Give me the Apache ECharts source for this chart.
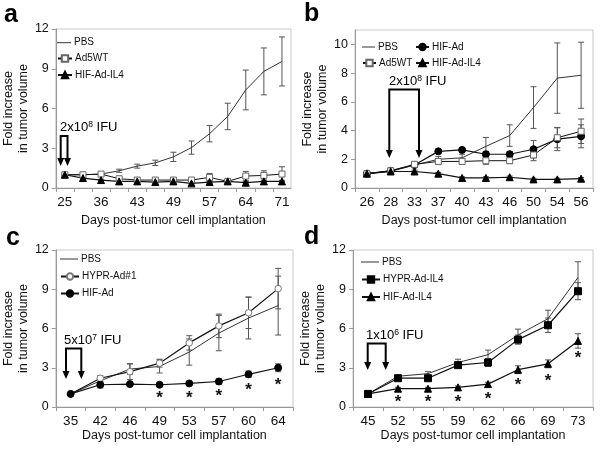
<!DOCTYPE html>
<html><head><meta charset="utf-8">
<script src="https://cdn.jsdelivr.net/npm/echarts@6/dist/echarts.min.js"></script>
<style>html,body{margin:0;padding:0;background:#fff}#c{width:600px;height:449px}</style>
</head><body><div id="c"></div>
<script>
// ---------- DATA ----------
const daysA = ['25','','36','','43','','49','','57','','64','','71'];
const pbsA = [1.0, 1.0, 1.05, 1.3, 1.65, 1.9, 2.35, 3.05, 4.1, 5.4, 7.4, 8.8, 9.55];
const pbsAErr = [0, 0.05, 0.1, 0.12, 0.15, 0.2, 0.35, 0.5, 0.62, 1.0, 1.5, 1.77, 1.85];
const ad5A = [1.0, 1.0, 1.05, 0.7, 0.6, 0.6, 0.6, 0.6, 0.8, 0.5, 0.9, 0.95, 1.05];
const ad5AErr = [0.05, 0.05, 0.1, 0.12, 0.1, 0.1, 0.15, 0.1, 0.3, 0.1, 0.35, 0.35, 0.55];
const hifIL4A = [1.0, 0.75, 0.6, 0.5, 0.5, 0.45, 0.5, 0.35, 0.45, 0.5, 0.4, 0.5, 0.5];
const hifIL4AErr = [0.05, 0.08, 0.05, 0.05, 0.05, 0.05, 0.08, 0.05, 0.08, 0.05, 0.08, 0.08, 0.08];

const daysB = ['26','28','33','37','40','43','46','50','54','56'];
const pbsB = [1.0, 1.15, 1.6, 2.0, 2.1, 2.9, 3.65, 5.6, 7.65, 7.85];
const pbsBErr = [0, 0.05, 0.1, 0.2, 0.25, 0.62, 0.75, 1.45, 2.45, 2.3];
const hifAdB = [1.0, 1.2, 1.6, 2.55, 2.65, 2.35, 2.35, 2.7, 3.4, 3.6];
const hifAdBErr = [0.05, 0.05, 0.1, 0.15, 0.15, 0.2, 0.2, 0.6, 0.8, 0.8];
const ad5B = [1.0, 1.2, 1.65, 1.85, 1.85, 1.9, 1.9, 2.3, 3.5, 3.95];
const ad5BErr = [0.05, 0.05, 0.1, 0.2, 0.2, 0.25, 0.2, 0.4, 0.7, 0.85];
const hifIL4B = [1.0, 1.15, 1.15, 1.0, 0.7, 0.7, 0.75, 0.6, 0.6, 0.65];
const hifIL4BErr = [0.05, 0.05, 0.1, 0.08, 0.08, 0.08, 0.08, 0.08, 0.08, 0.08];

const daysC = ['35','42','46','49','53','57','60','64'];
const pbsC = [1.0, 2.0, 2.9, 3.1, 4.2, 5.65, 6.8, 7.75];
const pbsCErr = [0, 0.15, 0.4, 0.5, 1.0, 1.35, 1.6, 2.25];
const hyprC = [1.0, 2.2, 2.7, 3.35, 4.9, 6.2, 7.2, 9.05];
const hyprCErr = [0, 0.2, 0.6, 0.3, 0.55, 0.9, 1.2, 1.55];
const hifAdC = [1.0, 1.7, 1.75, 1.7, 1.8, 1.95, 2.5, 3.0];
const hifAdCErr = [0, 0.25, 0.1, 0.1, 0.15, 0.2, 0.25, 0.3];
const starsC = [null, null, null, 0.95, 0.95, 1.15, 1.6, 2.0];

const daysD = ['45','52','55','59','62','66','69','73'];
const pbsD = [1.0, 2.35, 2.55, 3.4, 4.0, 5.5, 6.75, 9.9];
const pbsDErr = [0, 0.1, 0.15, 0.25, 0.35, 0.45, 0.65, 1.2];
const hyprD = [1.0, 2.2, 2.2, 3.2, 3.4, 5.15, 6.25, 8.85];
const hyprDErr = [0.05, 0.15, 0.2, 0.2, 0.3, 0.35, 0.55, 0.65];
const hifIL4D = [1.0, 1.4, 1.4, 1.5, 1.75, 2.85, 3.3, 5.05];
const hifIL4DErr = [0.05, 0.1, 0.1, 0.1, 0.15, 0.3, 0.3, 0.55];
const starsD = [null, 0.7, 0.7, 0.7, 0.9, 1.95, 2.3, 4.0];

// ---------- STYLES ----------
const FONT = 'Liberation Sans, Arial, sans-serif';
const AX = '#999';
const ST = {
  'PBS':         {symbol:'none', color:'#333', border:'#333', size:0, width:1},
  'Ad5WT':       {symbol:'rect', color:'#fff', border:'#666', size:6, width:1},
  'HIF-Ad-IL4':  {symbol:'triangle', color:'#000', border:'#000', size:7, width:1.2},
  'HIF-Ad':      {symbol:'circle', color:'#000', border:'#000', size:7, width:1.2},
  'HYPR-Ad#1':   {symbol:'circle', color:'#fff', border:'#777', size:6.5, width:1.2},
  'HYPR-Ad-IL4': {symbol:'rect', color:'#000', border:'#000', size:7, width:1.2}
};

function line(name, vals, gi){
  const s = ST[name];
  const isPBS = name === 'PBS';
  return {type:'line', name, xAxisIndex:gi, yAxisIndex:gi, data:vals, symbol:s.symbol,
    symbolSize:s.size, showSymbol: !isPBS, z:4,
    lineStyle:{color: isPBS ? '#333' : '#111', width:s.width},
    itemStyle:{color:s.color, borderColor:s.border, borderWidth: isPBS ? 0 : 1, opacity:1}};
}
function err(vals, errs, gi){
  return {type:'custom', xAxisIndex:gi, yAxisIndex:gi, z:3,
    data: vals.map((v,i)=>[i, v-errs[i], v+errs[i]]),
    encode:{x:0, y:[1,2]},
    renderItem:(p, api)=>{
      const x = api.value(0);
      const a = api.coord([x, api.value(2)]);
      const b = api.coord([x, api.value(1)]);
      if (Math.abs(a[1]-b[1]) < 1) return null;
      const st = {stroke:'#555', lineWidth:1};
      return {type:'group', children:[
        {type:'line', shape:{x1:a[0], y1:a[1], x2:b[0], y2:b[1]}, style:st},
        {type:'line', shape:{x1:a[0]-3, y1:a[1], x2:a[0]+3, y2:a[1]}, style:st},
        {type:'line', shape:{x1:b[0]-3, y1:b[1], x2:b[0]+3, y2:b[1]}, style:st}
      ]};
    }};
}
function stars(vals, gi){
  return {type:'custom', xAxisIndex:gi, yAxisIndex:gi, z:5,
    data: vals.map((v,i)=>[i, v]).filter(d=>d[1]!==null),
    encode:{x:0, y:1},
    renderItem:(p, api)=>{
      const c = api.coord([api.value(0), api.value(1)]);
      return {type:'text', x:c[0], y:c[1]+4, style:{text:'*', font:'bold 17px '+FONT, fill:'#111', align:'center', verticalAlign:'middle'}};
    }};
}

const grids = [
  {left:54, top:29, width:237, height:159},
  {left:355, top:30, width:238, height:158},
  {left:53, top:250, width:240, height:157},
  {left:353, top:250, width:240, height:157}
].map(g=>Object.assign(g, {show:true, borderColor:'#c8c8c8', borderWidth:1, backgroundColor:'#fff'}));

function xAx(gi, data, gap){
  return {type:'category', gridIndex:gi, data, boundaryGap:true,
    axisLine:{lineStyle:{color:AX}}, axisTick:{show:true, length:4, interval:0, lineStyle:{color:AX}},
    axisLabel:{interval:0, fontSize:13.5, color:'#111', margin:7, fontFamily:FONT},
    name:'Days post-tumor cell implantation', nameLocation:'middle', nameGap:gap,
    nameTextStyle:{fontSize:12.5, color:'#111', fontFamily:FONT}};
}
function yAx(gi, max, interval, hideMax){
  return {type:'value', gridIndex:gi, min:0, max, interval, splitLine:{show:false},
    axisLine:{show:true, lineStyle:{color:AX}}, axisTick:{show:true, length:4, lineStyle:{color:AX}},
    axisLabel:{fontSize:12.5, color:'#111', margin:7, showMaxLabel: !hideMax, fontFamily:FONT},
    name:'Fold increase\nin tumor volume', nameLocation:'middle', nameGap:16, nameRotate:90,
    nameTextStyle:{fontSize:12.5, lineHeight:15, color:'#111', fontFamily:FONT}};
}

// one legend component per row; PBS uses a thin bar icon
function row(name, left, cy, w){
  const isPBS = name === 'PBS';
  const o = {data: isPBS ? [{name, icon:'rect', itemStyle:{color:'#333', borderWidth:0, borderColor:'transparent'}}] : [name],
    left, top: cy - 6, orient:'vertical', padding:0, itemWidth:w, itemHeight: isPBS ? 1 : 8, height:12,
    selectedMode:false, textStyle:{fontSize:10, color:'#111', fontFamily:FONT, padding:[0,0,0,-2], lineHeight:12}};
  if (isPBS) o.itemStyle = {borderWidth:0};
  return o;
}

function bracket(x1, x2, yTop, yTip){
  const h = 8;
  return [
    {type:'polyline', shape:{points:[[x1,yTip-h+1],[x1,yTop],[x2,yTop],[x2,yTip-h+1]]}, style:{stroke:'#000', lineWidth:2, fill:null}},
    {type:'polygon', shape:{points:[[x1-3.5,yTip-h],[x1+3.5,yTip-h],[x1,yTip]]}, style:{fill:'#000'}},
    {type:'polygon', shape:{points:[[x2-3.5,yTip-h],[x2+3.5,yTip-h],[x2,yTip]]}, style:{fill:'#000'}}
  ];
}
function doseText(x, y, base, exp){
  return {type:'text', x, y, style:{text: base+'{s|'+exp+'} IFU', font:'13px '+FONT, fill:'#000',
    verticalAlign:'bottom', rich:{s:{fontSize:8.5, verticalAlign:'top', fontFamily:FONT, padding:[0,0,6,0]}}}};
}
function letter(t, x, y){
  return {type:'text', x, y, style:{text:t, font:'bold 25px '+FONT, fill:'#000', verticalAlign:'bottom'}};
}

const option = {
  animation:false, backgroundColor:'#fff',
  textStyle:{fontFamily:FONT},
  grid: grids,
  xAxis:[xAx(0, daysA, 26), xAx(1, daysB, 26), xAx(2, daysC, 17), xAx(3, daysD, 17)],
  yAxis:[yAx(0, 12, 3), yAx(1, 11, 2, true), yAx(2, 12, 3), yAx(3, 12, 3)],
  legend:[
    row('PBS', 57, 42.7, 14), row('Ad5WT', 57, 58.5, 14), row('HIF-Ad-IL4', 57, 75, 14),
    row('PBS', 362, 47, 13), row('HIF-Ad', 415, 47, 13),
    row('Ad5WT', 362, 63, 13), row('HIF-Ad-IL4', 415, 63, 13),
    row('PBS', 60, 259, 18), row('HYPR-Ad#1', 60, 276.5, 18), row('HIF-Ad', 60, 293.5, 18),
    row('PBS', 361, 262, 18), row('HYPR-Ad-IL4', 361, 279.5, 18), row('HIF-Ad-IL4', 361, 297, 18)
  ],
  series:[
    err(pbsA, pbsAErr, 0), err(ad5A, ad5AErr, 0), err(hifIL4A, hifIL4AErr, 0),
    line('PBS', pbsA, 0), line('Ad5WT', ad5A, 0), line('HIF-Ad-IL4', hifIL4A, 0),
    err(pbsB, pbsBErr, 1), err(hifAdB, hifAdBErr, 1), err(ad5B, ad5BErr, 1), err(hifIL4B, hifIL4BErr, 1),
    line('PBS', pbsB, 1), line('HIF-Ad', hifAdB, 1), line('Ad5WT', ad5B, 1), line('HIF-Ad-IL4', hifIL4B, 1),
    err(pbsC, pbsCErr, 2), err(hyprC, hyprCErr, 2), err(hifAdC, hifAdCErr, 2),
    line('PBS', pbsC, 2), line('HYPR-Ad#1', hyprC, 2), line('HIF-Ad', hifAdC, 2), stars(starsC, 2),
    err(pbsD, pbsDErr, 3), err(hyprD, hyprDErr, 3), err(hifIL4D, hifIL4DErr, 3),
    line('PBS', pbsD, 3), line('HYPR-Ad-IL4', hyprD, 3), line('HIF-Ad-IL4', hifIL4D, 3), stars(starsD, 3)
  ],
  graphic:[
    letter('a', 4, 28), letter('b', 304, 27), letter('c', 6, 251), letter('d', 304, 250),
    doseText(60, 135, '2x10', '8'), ...bracket(60.7, 67.5, 136, 166),
    doseText(389, 89, '2x10', '8'), ...bracket(389.3, 419, 89.5, 158),
    doseText(64, 348, '5x10', '7'), ...bracket(66, 81.3, 348.5, 379),
    doseText(366, 343, '1x10', '6'), ...bracket(367.7, 385.7, 343.5, 370)
  ]
};
const chart = echarts.init(document.getElementById('c'), null, {renderer:'canvas'});
chart.setOption(option);
</script></body></html>
